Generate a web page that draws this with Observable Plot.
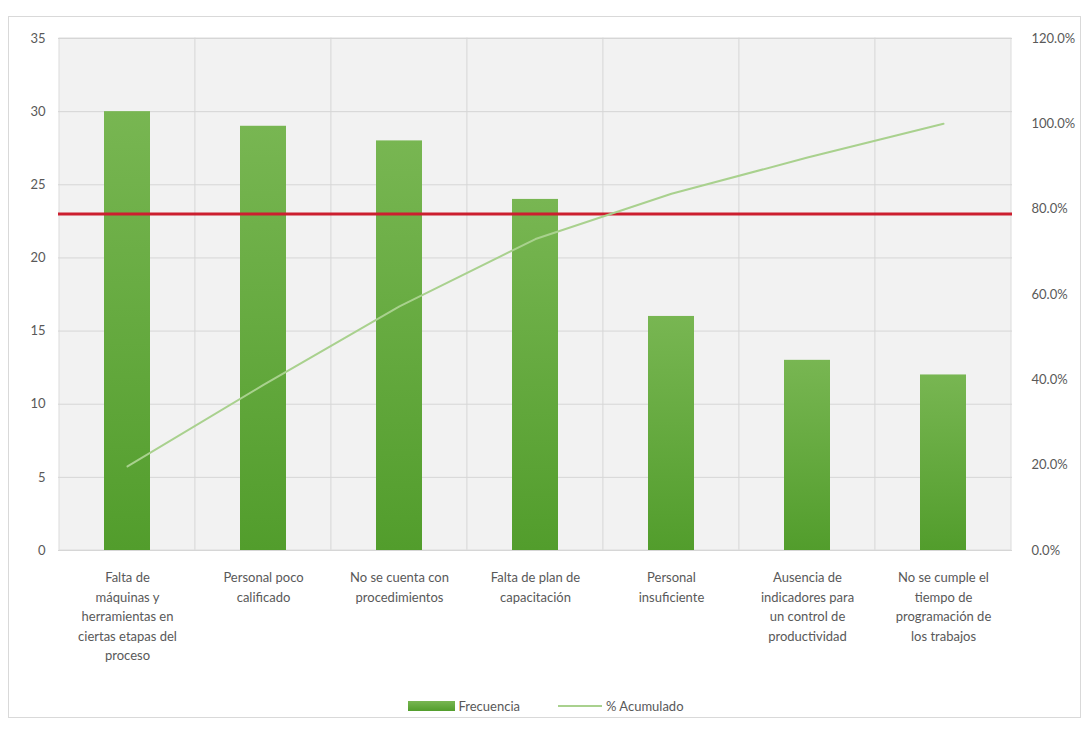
<!DOCTYPE html>
<html>
<head>
<meta charset="utf-8">
<script src="https://cdn.jsdelivr.net/npm/d3@7"></script>
<script src="https://cdn.jsdelivr.net/npm/@observablehq/plot@0.6"></script>
<style>
  html, body { margin: 0; padding: 0; background: #fff; }
  body { width: 1089px; height: 729px; position: relative; overflow: hidden; font-family: Lato, "Open Sans", sans-serif; }
  #frame { position: absolute; left: 8px; top: 16px; width: 1073px; height: 702px; border: 1px solid #d9d9d9; box-sizing: border-box; }
  #chart { position: absolute; left: 0; top: 0; }
  #legend { position: absolute; top: 698px; left: 0; width: 1089px; display: flex; justify-content: center; align-items: center; gap: 0; font-size: 13px; color: #595959; padding-left: 2px; box-sizing: border-box; }
  .sw-bar { display: inline-block; width: 47px; height: 10px; background: linear-gradient(#78b652, #529d2c); margin-right: 4px; }
  .sw-line { display: inline-block; width: 44px; height: 2px; background: #a9d18e; margin-left: 38px; margin-right: 4px; }
</style>
</head>
<body>
<div id="frame"></div>
<div id="chart"></div>
<div id="legend"><span class="sw-bar"></span><span>Frecuencia</span><span class="sw-line"></span><span>% Acumulado</span></div>
<script>
const categories = [
  "Falta de máquinas y herramientas en ciertas etapas del proceso",
  "Personal poco calificado",
  "No se cuenta con procedimientos",
  "Falta de plan de capacitación",
  "Personal insuficiente",
  "Ausencia de indicadores para un control de productividad",
  "No se cumple el tiempo de programación de los trabajos"
];
const labelLines = [
  ["Falta de", "máquinas y", "herramientas en", "ciertas etapas del", "proceso"],
  ["Personal poco", "calificado"],
  ["No se cuenta con", "procedimientos"],
  ["Falta de plan de", "capacitación"],
  ["Personal", "insuficiente"],
  ["Ausencia de", "indicadores para", "un control de", "productividad"],
  ["No se cumple el", "tiempo de", "programación de", "los trabajos"]
];
const frecuencia = [30, 29, 28, 24, 16, 13, 12];
const acumulado = [19.7, 38.8, 57.2, 73.0, 83.6, 92.1, 100.0];
const leftTicks = [0, 5, 10, 15, 20, 25, 30, 35];
const rightTicks = [0, 20, 40, 60, 80, 100, 120];
const umbral = 23;

const leftMax = 35, rightMax = 120;
const toLeft = p => p * leftMax / rightMax;

const rows = categories.map((c, i) => ({cat: c, f: frecuencia[i], pct: acumulado[i]}));

const chart = Plot.plot({
  width: 1089,
  height: 690,
  marginTop: 38,
  marginLeft: 58,
  marginRight: 77,
  marginBottom: 140,
  style: {color: "#595959", fontFamily: "Lato, 'Open Sans', sans-serif", fontSize: "13px", background: "transparent"},
  x: {domain: categories, padding: 0, label: null},
  y: {domain: [0, leftMax], label: null},
  marks: [
    Plot.cell(categories, {x: d => d, fill: "#f2f2f2", stroke: "#dcdcdc", strokeWidth: 1}),
    Plot.gridY(leftTicks, {stroke: "#d6d6d6", strokeOpacity: 1, strokeWidth: 1}),
    Plot.barY(rows, {x: "cat", y: "f", fill: "url(#barGrad)", insetLeft: 45, insetRight: 45}),
    Plot.ruleY([umbral], {stroke: "#cc1f2f", strokeWidth: 3}),
    Plot.line(rows, {x: "cat", y: d => toLeft(d.pct), stroke: "#a9d18e", strokeWidth: 2}),
    Plot.axisY(leftTicks, {anchor: "left", tickSize: 0, tickPadding: 13, label: null}),
    Plot.axisY(rightTicks.map(toLeft), {anchor: "right", tickSize: 0, tickPadding: 19, label: null,
      tickFormat: d => (d * rightMax / leftMax).toFixed(1) + "%", textAnchor: "start"}),
    Plot.axisX({tickSize: 0, tickPadding: 18, label: null, lineHeight: 1.5,
      tickFormat: d => labelLines[categories.indexOf(d)].join("\n")})
  ]
});

const ns = "http://www.w3.org/2000/svg";
const defs = document.createElementNS(ns, "defs");
const grad = document.createElementNS(ns, "linearGradient");
grad.setAttribute("id", "barGrad");
grad.setAttribute("x1", "0"); grad.setAttribute("y1", "0");
grad.setAttribute("x2", "0"); grad.setAttribute("y2", "1");
[["0%", "#78b652"], ["100%", "#529d2c"]].forEach(([o, c]) => {
  const s = document.createElementNS(ns, "stop");
  s.setAttribute("offset", o); s.setAttribute("stop-color", c);
  grad.appendChild(s);
});
defs.appendChild(grad);
chart.insertBefore(defs, chart.firstChild);
document.getElementById("chart").appendChild(chart);
</script>
</body>
</html>
